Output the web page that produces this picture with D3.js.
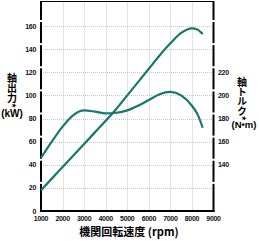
<!DOCTYPE html>
<html>
<head>
<meta charset="utf-8">
<script src="https://cdn.jsdelivr.net/npm/d3@7"></script>
<style>
  body { margin: 0; background: #fff; }
  svg { display: block; }
  .vert { writing-mode: vertical-rl; }
</style>
</head>
<body>
<svg id="chart" width="259" height="241"></svg>
<script>
// data
const rpm = [1000, 1500, 2000, 2500, 3000, 3500, 4000, 4500, 5000, 5500, 6000, 6500, 7000, 7500, 8000, 8250, 8500];
const powerKW = [18, 28, 38, 48, 58, 68, 78, 88.5, 100, 111.5, 123, 134.5, 145, 154, 158, 157, 153];
const torqueNm = [146, 160, 173, 183, 187, 186, 184.5, 185, 187, 191, 196, 201, 203, 200, 191, 184, 172];

const rpmTicks = [1000, 2000, 3000, 4000, 5000, 6000, 7000, 8000, 9000];
const kwTicks = [0, 20, 40, 60, 80, 100, 120, 140, 160];
const nmTicks = [140, 160, 180, 200, 220];

const svg = d3.select("#chart");
const teal = "#16786d";

const plotL = 41, plotR = 213.5, plotT = 1.5, plotB = 211;

const x = d3.scaleLinear().domain([1000, 9000]).range([plotL, plotR]);
const y = d3.scaleLinear().domain([0, 160]).range([plotB, 26]);
const y2 = d3.scaleLinear().domain([100, 260]).range([plotB, 26]);

// grid
const grid = svg.append("g").attr("stroke", "#c8c8c8").attr("stroke-width", 1).attr("stroke-dasharray", "1,1");
grid.selectAll("line.v")
  .data(rpmTicks.slice(1, -1))
  .enter().append("line")
  .attr("x1", d => Math.round(x(d)) + 0.5).attr("x2", d => Math.round(x(d)) + 0.5)
  .attr("y1", plotT).attr("y2", plotB);
grid.selectAll("line.h")
  .data(kwTicks.slice(1))
  .enter().append("line")
  .attr("x1", plotL).attr("x2", plotR)
  .attr("y1", d => Math.round(y(d)) + 0.5).attr("y2", d => Math.round(y(d)) + 0.5);

// frame
svg.append("line").attr("x1", plotL).attr("x2", plotR).attr("y1", plotT).attr("y2", plotT)
  .attr("stroke", "#000").attr("stroke-width", 1);
svg.append("line").attr("x1", plotL).attr("x2", plotL).attr("y1", plotT - 0.5).attr("y2", plotB + 1)
  .attr("stroke", "#000").attr("stroke-width", 2);
svg.append("line").attr("x1", plotR).attr("x2", plotR).attr("y1", plotT - 0.5).attr("y2", plotB + 1)
  .attr("stroke", "#000").attr("stroke-width", 2);
svg.append("line").attr("x1", plotL - 1).attr("x2", plotR + 1).attr("y1", plotB).attr("y2", plotB)
  .attr("stroke", "#000").attr("stroke-width", 2);

// little breaks in the side axes, like the scan
[plotL, plotR].forEach(ax => {
  svg.append("g").selectAll("rect")
    .data(kwTicks.slice(1))
    .enter().append("rect")
    .attr("x", ax - 1.5).attr("width", 3)
    .attr("y", d => y(d) - 6).attr("height", 2)
    .attr("fill", "#fff");
});

// curves
const line = d3.line().curve(d3.curveMonotoneX);
svg.append("path")
  .attr("d", line(rpm.map((r, i) => [x(r), y(powerKW[i])])))
  .attr("fill", "none").attr("stroke", teal).attr("stroke-width", 2.2);
svg.append("path")
  .attr("d", line(rpm.map((r, i) => [x(r), y2(torqueNm[i])])))
  .attr("fill", "none").attr("stroke", teal).attr("stroke-width", 2.2);

// tick labels
const tickFont = "'Liberation Sans', Arial, sans-serif";
function tickText(sel) {
  sel.attr("font-family", tickFont).attr("font-size", 7).attr("font-weight", "bold")
    .attr("letter-spacing", -0.3).attr("fill", "#111");
}
svg.append("g").selectAll("text")
  .data(rpmTicks)
  .enter().append("text")
  .attr("x", d => x(d)).attr("y", 221)
  .attr("text-anchor", "middle")
  .call(tickText)
  .text(d => d);
svg.append("g").selectAll("text")
  .data(kwTicks)
  .enter().append("text")
  .attr("x", 36).attr("y", d => y(d) + 2.5)
  .attr("text-anchor", "end")
  .call(tickText)
  .text(d => d);
svg.append("g").selectAll("text")
  .data(nmTicks)
  .enter().append("text")
  .attr("x", 218).attr("y", d => y2(d) + 2.5)
  .attr("text-anchor", "start")
  .call(tickText)
  .text(d => d);

// axis titles
const jp = "'Noto Sans CJK JP', sans-serif";
svg.append("text")
  .attr("x", 129).attr("y", 236)
  .attr("text-anchor", "middle")
  .attr("font-family", jp).attr("font-weight", "bold").attr("font-size", 11)
  .text("機関回転速度 (rpm)");

// vertical titles, the unit written across below
svg.append("text").attr("class", "vert")
  .attr("x", 12).attr("y", 73)
  .attr("font-family", jp).attr("font-weight", "bold").attr("font-size", 10)
  .text("軸出力*");
svg.append("text").attr("x", 12).attr("y", 117).attr("text-anchor", "middle")
  .attr("font-family", tickFont).attr("font-weight", "bold").attr("font-size", 10).text("(kW)");

svg.append("text").attr("class", "vert")
  .attr("x", 242).attr("y", 77)
  .attr("font-family", jp).attr("font-weight", "bold").attr("font-size", 10)
  .attr("letter-spacing", -0.3)
  .text("軸トルク*");
svg.append("text").attr("x", 244).attr("y", 128).attr("text-anchor", "middle")
  .attr("font-family", tickFont).attr("font-weight", "bold").attr("font-size", 9.5).text("(N•m)");
</script>
</body>
</html>
